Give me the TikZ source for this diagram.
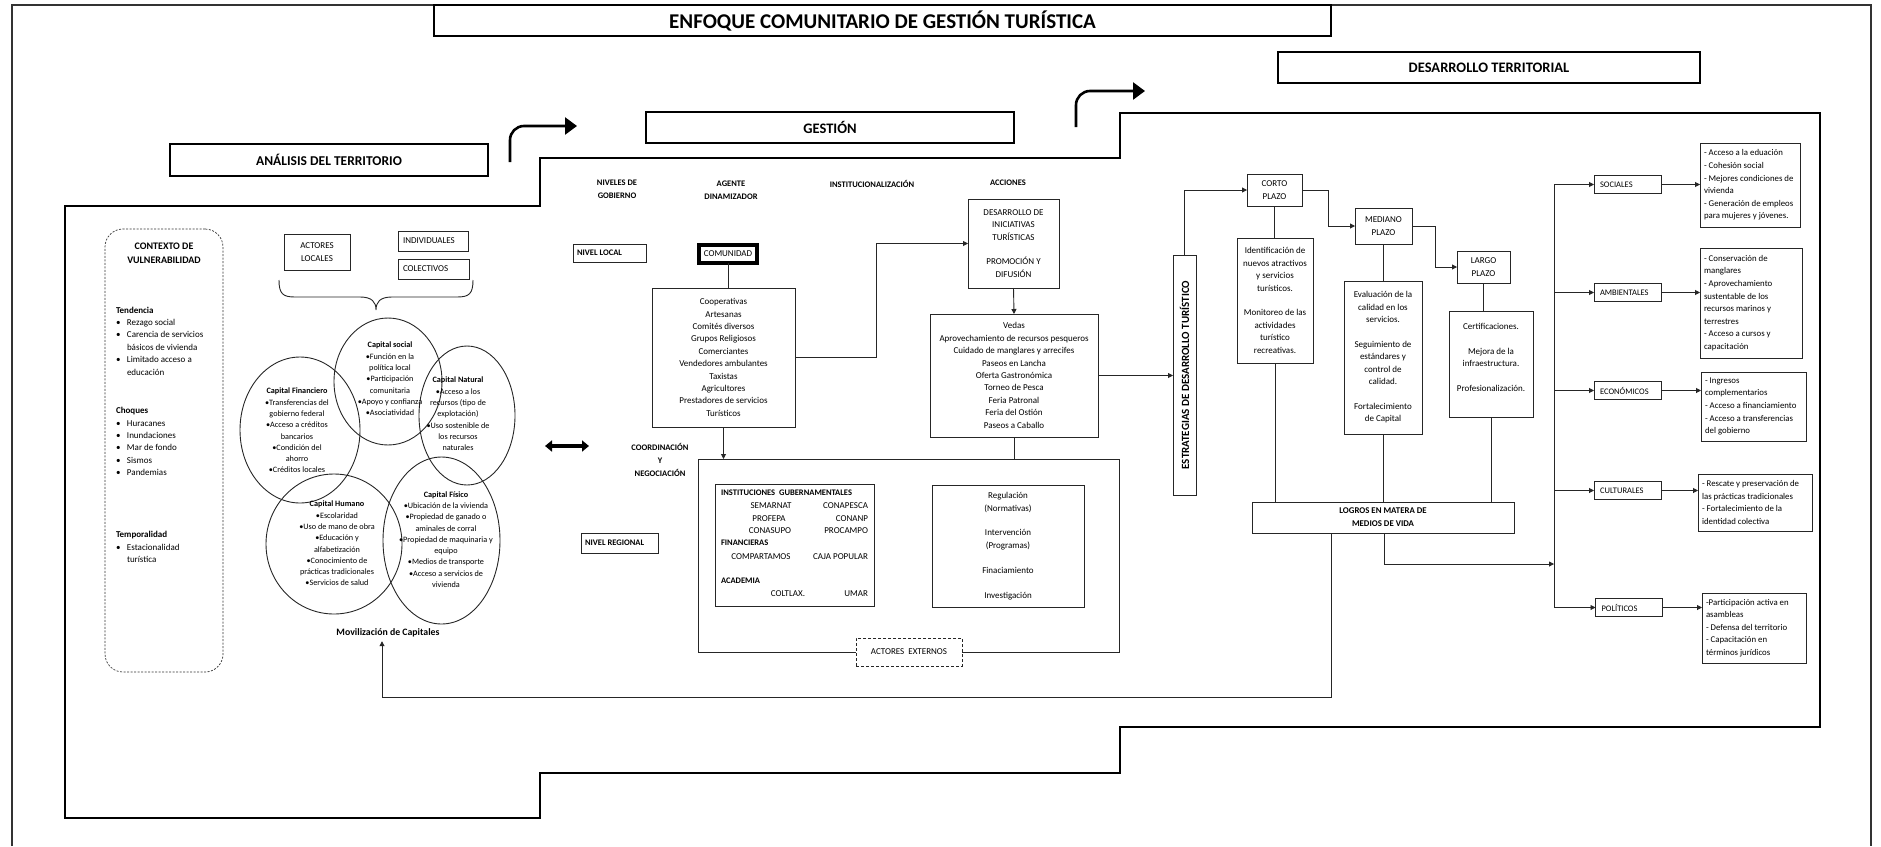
\documentclass[tikz,border=0pt]{standalone}
\usepackage{fontspec}
\setmainfont{Carlito}
\usetikzlibrary{arrows.meta,calc}
\newcommand{\bl}{\makebox[11pt][l]{\textbullet}}
\newcommand{\nb}{\hspace*{11pt}}
\begin{document}
\begin{tikzpicture}[x=1pt,y=-1pt,
  every node/.style={inner sep=0pt, outer sep=0pt},
  box/.style={draw=black!85, line width=0.9pt, fill=white},
  hbox/.style={draw=black, line width=1.8pt, fill=white, font=\fontsize{14.5}{16}\selectfont\bfseries},
  txt/.style={align=center, font=\fontsize{9}{12.4}\selectfont},
  ltxt/.style={align=left, font=\fontsize{9}{12.4}\selectfont, anchor=west},
  otxt/.style={align=left, font=\fontsize{8.8}{12.6}\selectfont, anchor=west},
  cattxt/.style={font=\fontsize{8.5}{10}\selectfont, anchor=west},
  hd/.style={align=center, font=\fontsize{8.5}{13}\selectfont\bfseries},
  ctxt/.style={align=center, font=\fontsize{8.2}{11.3}\selectfont},
  conn/.style={draw=black!85, line width=0.9pt},
  arr/.style={conn, -{Triangle[length=5pt,width=5pt]}},
  bigarr/.style={draw=black, line width=2.6pt, -{Triangle[length=12pt,width=17pt]}, rounded corners=14pt},
  stair/.style={draw=black, line width=2.2pt},
]
\useasboundingbox (0,0) rectangle (1881,846);
% outer frame
\draw[black!80, line width=1.2pt] (12,846) -- (12,5) -- (1871,5) -- (1871,846);
% staircase
\draw[stair] (65,206) -- (540,206) -- (540,158) -- (1120,158) -- (1120,113) -- (1820,113)
  -- (1820,727) -- (1120,727) -- (1120,773) -- (540,773) -- (540,818) -- (65,818) -- cycle;

% headers
\node[hbox, line width=1.4pt, minimum width=897, minimum height=31, font=\fontsize{21}{24}\selectfont\bfseries] (title) at (882.5,20.5) {ENFOQUE COMUNITARIO DE GESTIÓN TURÍSTICA};
\node[hbox, minimum width=422, minimum height=31] (dt) at (1489,67.5) {DESARROLLO TERRITORIAL};
\node[hbox, minimum width=368, minimum height=31] (ge) at (830,127.5) {GESTIÓN};
\node[hbox, minimum width=318, minimum height=32, font=\fontsize{13.5}{16}\selectfont\bfseries] (an) at (329,160) {ANÁLISIS DEL TERRITORIO};

% curved arrows
\coordinate (a1s) at (510,162); \coordinate (a1e) at (577,126);
\draw[bigarr] (a1s) |- (a1e);
\coordinate (a2s) at (1076,127); \coordinate (a2e) at (1145,91);
\draw[bigarr] (a2s) |- (a2e);

% vulnerability
\node[draw=black!80, dash pattern=on 2pt off 1.5pt, line width=0.7pt, rounded corners=18pt, minimum width=118, minimum height=443] (vul) at (164,450.5) {};
\node[hd, font=\fontsize{10}{14}\selectfont\bfseries] (vult) at (164,253) {CONTEXTO DE\\VULNERABILIDAD};
\node[ltxt] (tend) at (116,341) {\textbf{Tendencia}\\\bl Rezago social\\\bl Carencia de servicios\\\nb básicos de vivienda\\\bl Limitado acceso a\\\nb educación};
\node[ltxt] (choq) at (116,441.5) {\textbf{Choques}\\\bl Huracanes\\\bl Inundaciones\\\bl Mar de fondo\\\bl Sismos\\\bl Pandemias};
\node[ltxt] (temp) at (116,547) {\textbf{Temporalidad}\\\bl Estacionalidad\\\nb turística};

% actors
\node[box, txt, minimum width=66, minimum height=36] (act) at (317,252) {ACTORES\\LOCALES};
\node[box, minimum width=70, minimum height=20] (ind) at (433,241) {};
\node[ltxt] (indt) at ([xshift=5pt]ind.west) {INDIVIDUALES};
\node[box, minimum width=71, minimum height=20] (col) at (433.5,269) {};
\node[ltxt] (colt) at ([xshift=5pt]col.west) {COLECTIVOS};
\draw[conn] (279,280) .. controls (279,294) and (283,297) .. (295,297) -- (360,297)
  .. controls (372,297) and (376,302) .. (376,310) .. controls (376,302) and (380,297) .. (392,297)
  -- (457,297) .. controls (469,297) and (473,294) .. (473,280);

% capitals
\draw[conn] (388,381.5) ellipse [x radius=54, y radius=63.5];
\draw[conn] (300,430) ellipse [x radius=60, y radius=73];
\draw[conn] (467,415.5) ellipse [x radius=48, y radius=69.5];
\draw[conn] (334,544) ellipse [x radius=68, y radius=70];
\draw[conn] (441.5,540.5) ellipse [x radius=58.5, y radius=83.5];
\node[ctxt] (cs) at (390,379) {\textbf{Capital social}\\\textbullet Función en la\\política local\\\textbullet Participación\\comunitaria\\\textbullet Apoyo y confianza\\\textbullet Asociatividad};
\node[ctxt] (cf) at (297,430.5) {\textbf{Capital Financiero}\\\textbullet Transferencias del\\gobierno federal\\\textbullet Acceso a créditos\\bancarios\\\textbullet Condición del\\ahorro\\\textbullet Créditos locales};
\node[ctxt] (cn) at (458,414) {\textbf{Capital Natural}\\\textbullet Acceso a los\\recursos (tipo de\\explotación)\\\textbullet Uso sostenible de\\los recursos\\naturales};
\node[ctxt] (ch) at (337,543.5) {\textbf{Capital Humano}\\\textbullet Escolaridad\\\textbullet Uso de mano de obra\\\textbullet Educación y\\alfabetización\\\textbullet Conocimiento de\\prácticas tradicionales\\\textbullet Servicios de salud};
\node[ctxt] (cfi) at (446,539.5) {\textbf{Capital Físico}\\\textbullet Ubicación de la vivienda\\\textbullet Propiedad de ganado o\\aminales de corral\\\textbullet Propiedad de maquinaria y\\equipo\\\textbullet Medios de transporte\\\textbullet Acceso a servicios de\\vivienda};
\node[font=\fontsize{9.8}{12}\selectfont\bfseries] (mov) at (388,633) {Movilización de Capitales};

% double arrow
\coordinate (da1) at (545,446); \coordinate (da2) at (589,446);
\draw[line width=3.5pt, {Triangle[length=7pt,width=11pt]}-{Triangle[length=7pt,width=11pt]}] (da1) -- (da2);

% middle headers
\node[hd] (hng) at (617,189) {NIVELES DE\\GOBIERNO};
\node[hd] (had) at (731,190.5) {AGENTE\\DINAMIZADOR};
\node[hd] (hin) at (872,184) {INSTITUCIONALIZACIÓN};
\node[hd] (hac) at (1008,183) {ACCIONES};

\node[box, minimum width=73, minimum height=18] (nl) at (609.5,253) {};
\node[hd, anchor=west] (nlt) at ([xshift=4pt]nl.west) {NIVEL LOCAL};
\node[box, txt, draw=black, line width=3.5pt, minimum width=58, minimum height=18] (com) at (728,254) {COMUNIDAD};
\node[box, txt, minimum width=143, minimum height=139] (coop) at (723.5,357.5) {Cooperativas\\Artesanas\\Comités diversos\\Grupos Religiosos\\Comerciantes\\Vendedores ambulantes\\Taxistas\\Agricultores\\Prestadores de servicios\\Turísticos};
\draw[conn] (com.south) -- (com.south |- coop.north);

\node[box, txt, minimum width=91, minimum height=89] (desa) at (1013.5,243.5) {DESARROLLO DE\\INICIATIVAS\\TURÍSTICAS\\[12.4pt]PROMOCIÓN Y\\DIFUSIÓN};
\draw[arr] (coop.east) -- ++(81,0) |- (desa.west);
\node[box, txt, minimum width=168, minimum height=123] (ved) at (1014,375.5) {Vedas\\Aprovechamiento de recursos pesqueros\\Cuidado de manglares y arrecifes\\Paseos en Lancha\\Oferta Gastronómica\\Torneo de Pesca\\Feria Patronal\\Feria del Ostión\\Paseos a Caballo};
\draw[arr] (desa.south) -- (ved.north);

% regional
\node[draw=black!85, line width=0.9pt, minimum width=421, minimum height=193] (reg) at (908.5,555.5) {};
\draw[conn] (ved.south) -- (ved.south |- reg.north);
\draw[arr] (coop.south) -- (coop.south |- reg.north);
\node[hd] (coord) at (660,460) {COORDINACIÓN\\Y\\NEGOCIACIÓN};
\node[box, minimum width=77, minimum height=20] (nr) at (619.5,543) {};
\node[hd, anchor=west] (nrt) at ([xshift=4pt]nr.west) {NIVEL REGIONAL};

\node[box, minimum width=159, minimum height=122] (inst) at (794.5,545) {};
\node[hd, anchor=west] (i0) at (721,493) {INSTITUCIONES\ \ GUBERNAMENTALES};
\node[txt] (i1) at (771,506) {SEMARNAT};
\node[txt, anchor=east] (i2) at (868,506) {CONAPESCA};
\node[txt] (i3) at (769,519) {PROFEPA};
\node[txt, anchor=east] (i4) at (868,519) {CONANP};
\node[txt] (i5) at (770,531) {CONASUPO};
\node[txt, anchor=east] (i6) at (868,531) {PROCAMPO};
\node[hd, anchor=west] (i7) at (721,543) {FINANCIERAS};
\node[txt] (i8) at (761,557) {COMPARTAMOS};
\node[txt, anchor=east] (i9) at (868,557) {CAJA POPULAR};
\node[hd, anchor=west] (i10) at (721,581) {ACADEMIA};
\node[txt] (i11) at (788,594) {COLTLAX.};
\node[txt, anchor=east] (i12) at (868,594) {UMAR};

\node[box, txt, minimum width=152, minimum height=122] (regu) at (1008,546) {Regulación\\(Normativas)\\[12.5pt]Intervención\\(Programas)\\[12.5pt]Finaciamiento\\[12.5pt]Investigación};
\node[box, txt, dash pattern=on 3pt off 2pt, minimum width=106, minimum height=28] (ae) at (909,652) {ACTORES\ \ EXTERNOS};

% strategies
\node[box, minimum width=23, minimum height=240] (estr) at (1184.5,375) {};
\node[rotate=90, font=\fontsize{11}{13}\selectfont\bfseries] (estrt) at (estr) {ESTRATEGIAS DE DESARROLLO TURÍSTICO};
\draw[arr] (ved.east) -- (ved.east -| estr.west);

\node[box, txt, minimum width=55, minimum height=32] (corto) at (1274.5,190) {CORTO\\PLAZO};
\node[box, txt, minimum width=57, minimum height=36] (med) at (1383.5,226) {MEDIANO\\PLAZO};
\node[box, txt, minimum width=53, minimum height=32] (largo) at (1483.5,267) {LARGO\\PLAZO};
\draw[arr] (estr.north) |- (corto.west);
\draw[arr] (corto.east) -- ++(26,0) |- (med.west);
\draw[arr] (med.east) -- ++(23,0) |- (largo.west);

\node[box, txt, minimum width=76, minimum height=125] (ident) at (1275,300.5) {Identificación de\\nuevos atractivos\\y servicios\\turísticos.\\[12.4pt]Monitoreo de las\\actividades\\turístico\\recreativas.};
\node[box, txt, minimum width=78, minimum height=153] (eval) at (1383,357.5) {Evaluación de la\\calidad en los\\servicios.\\[12.4pt]Seguimiento de\\estándares y\\control de\\calidad.\\[12.4pt]Fortalecimiento\\de Capital};
\node[box, minimum width=84, minimum height=106] (cert) at (1491,364) {};
\node[txt] (certt) at (1491,357.5) {Certificaciones.\\[12.4pt]Mejora de la\\infraestructura.\\[12.4pt]Profesionalización.};
\node[box, hd, font=\fontsize{8.8}{13}\selectfont\bfseries, minimum width=262, minimum height=31] (logros) at (1383,517.5) {LOGROS EN\ MATERA DE\\MEDIOS DE VIDA};

\draw[conn] (corto.south) -- (corto.south |- ident.north);
\draw[conn] (ident.south) -- (ident.south |- logros.north);
\draw[conn] (med.south) -- (med.south |- eval.north);
\draw[conn] (eval.south) -- (eval.south |- logros.north);
\draw[conn] (largo.south) -- (largo.south |- cert.north);
\draw[conn] (cert.south) -- (cert.south |- logros.north);

% categories
\node[box, minimum width=67, minimum height=18] (soc) at (1627.5,184.5) {};
\node[cattxt] (soct) at ([xshift=6pt]soc.west) {SOCIALES};
\node[box, minimum width=67, minimum height=18] (amb) at (1627.5,292.5) {};
\node[cattxt] (ambt) at ([xshift=6pt]amb.west) {AMBIENTALES};
\node[box, minimum width=67, minimum height=18] (eco) at (1627.5,390.5) {};
\node[cattxt] (ecot) at ([xshift=6pt]eco.west) {ECONÓMICOS};
\node[box, minimum width=67, minimum height=18] (cul) at (1627.5,490.5) {};
\node[cattxt] (cult) at ([xshift=6pt]cul.west) {CULTURALES};
\node[box, minimum width=67, minimum height=18] (pol) at (1629,607.5) {};
\node[cattxt] (polt) at ([xshift=6pt]pol.west) {POLÍTICOS};

% outcomes
\node[box, minimum width=100, minimum height=84] (o1) at (1750,185) {};
\node[otxt] (o1t) at ([xshift=4pt]o1.west) {- Acceso a la eduación\\- Cohesión social\\- Mejores condiciones de\\vivienda\\- Generación de empleos\\para mujeres y jóvenes.};
\node[box, minimum width=102, minimum height=110] (o2) at (1751,303) {};
\node[otxt] (o2t) at ([xshift=4pt]o2.west) {- Conservación de\\manglares\\- Aprovechamiento\\sustentable de los\\recursos marinos y\\terrestres\\- Acceso a cursos y\\capacitación};
\node[box, minimum width=105, minimum height=69] (o3) at (1753.5,406.5) {};
\node[otxt] (o3t) at ([xshift=4pt]o3.west) {- Ingresos\\complementarios\\- Acceso a financiamiento\\- Acceso a transferencias\\del gobierno};
\node[box, minimum width=114, minimum height=57] (o4) at (1755,502.5) {};
\node[otxt] (o4t) at ([xshift=4pt]o4.west) {- Rescate y preservación de\\las prácticas tradicionales\\- Fortalecimiento de la\\identidad colectiva};
\node[box, minimum width=104, minimum height=70] (o5) at (1754,628) {};
\node[otxt] (o5t) at ([xshift=4pt]o5.west) {-Participación activa en\\asambleas\\- Defensa del territorio\\- Capacitación en\\términos jurídicos};

\draw[arr] (soc.east) -- (soc.east -| o1.west);
\draw[arr] (amb.east) -- (amb.east -| o2.west);
\draw[arr] (eco.east) -- (eco.east -| o3.west);
\draw[arr] (cul.east) -- (cul.east -| o4.west);
\draw[arr] (pol.east) -- (pol.east -| o5.west);

% bar
\coordinate (bt) at (1554,184.5); \coordinate (bb) at (1554,607.5);
\draw[conn] (bt) -- (bb);
\draw[arr] (bt) -- (soc.west);
\draw[arr] (bt |- amb.west) -- (amb.west);
\draw[arr] (bt |- eco.west) -- (eco.west);
\draw[arr] (bt |- cul.west) -- (cul.west);
\draw[arr] (bb) -- (pol.west);

% logros outputs
\coordinate (lb1) at ([xshift=-52pt]logros.south);
\coordinate (movin) at ([xshift=-6pt]mov.south);
\draw[arr, shorten >=4pt] (lb1) -- ++(0,164) -| (movin);
\coordinate (lb2) at ([xshift=1pt]logros.south);
\draw[arr] (lb2) -- ++(0,31) coordinate (lbc) -- (lbc -| bt);
\end{tikzpicture}
\end{document}
